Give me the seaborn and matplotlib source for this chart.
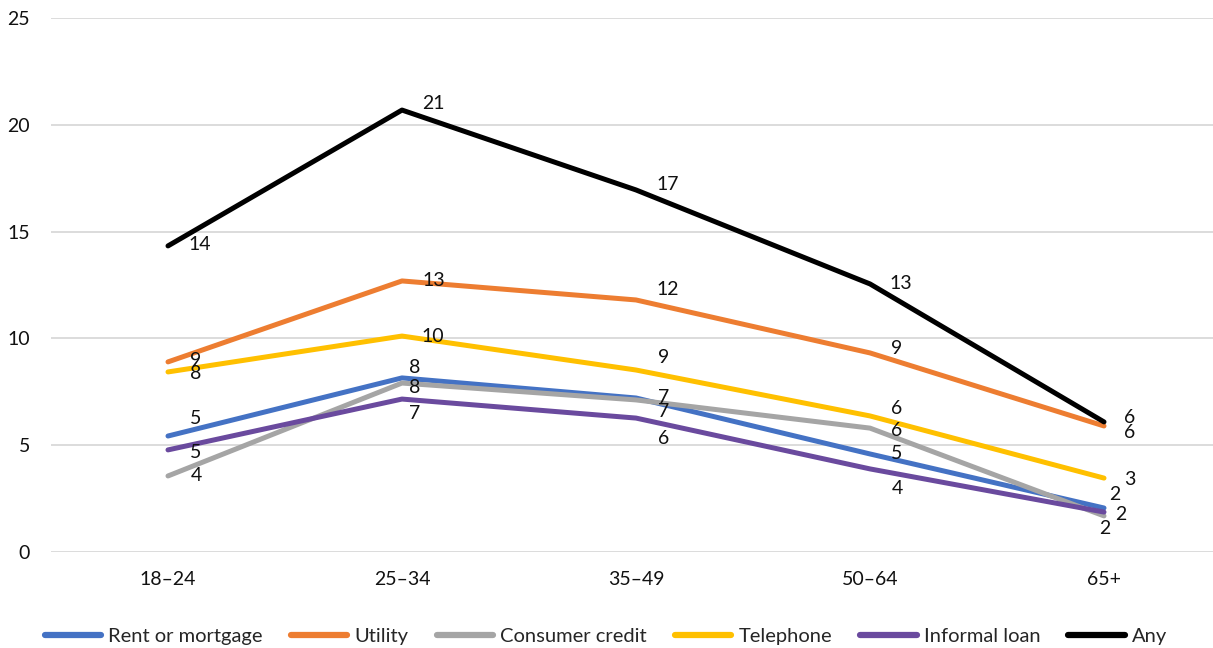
import matplotlib
matplotlib.use("Agg")
import matplotlib.pyplot as plt
import seaborn as sns
import pandas as pd

age_groups = ["18–24", "25–34", "35–49", "50–64", "65+"]
series_names = ["Rent or mortgage", "Utility", "Consumer credit", "Telephone", "Informal loan", "Any"]

rent = [5.43, 8.15, 7.21, 4.59, 2.06]
utility = [8.9, 12.69, 11.8, 9.32, 5.9]
consumer_credit = [3.56, 7.91, 7.12, 5.8, 1.69]
telephone = [8.43, 10.11, 8.52, 6.37, 3.46]
informal_loan = [4.78, 7.16, 6.27, 3.89, 1.87]
any_arrears = [14.33, 20.69, 16.95, 12.55, 6.09]

y_ticks = [0, 5, 10, 15, 20, 25]

values = [rent, utility, consumer_credit, telephone, informal_loan, any_arrears]
colors = ["#4472C4", "#ED7D31", "#A5A5A5", "#FFC000", "#6A4A9E", "#000000"]

# label offsets (pixels) from each point, per series
label_offsets = [
    [(28, 18), (13, 10), (28, 0), (27, 0), (11, 13)],
    [(28, 1), (32, 0), (32, 10), (27, 4), (26, -7)],
    [(28, 0), (13, -4), (28, -12), (27, -2), (1, -13)],
    [(28, -2), (31, 0), (28, 13), (27, 7), (26, -1)],
    [(28, -3), (13, -14), (28, -20), (27, -20), (17, -2)],
    [(32, 1), (31, 7), (32, 5), (31, 0), (26, 4)],
]

df = pd.DataFrame(
    [(s, age_groups[i], i, v[i]) for s, v in zip(series_names, values) for i in range(len(age_groups))],
    columns=["series", "age", "x", "value"],
)

sns.set_theme(style="white")
plt.rcParams["font.family"] = ["Lato", "DejaVu Sans"]

fig = plt.figure(figsize=(12.13, 6.48), dpi=100)
ax = fig.add_axes([51 / 1213, 96 / 648, 1 - 51 / 1213, (552 - 18) / 648])

sns.lineplot(
    data=df, x="x", y="value", hue="series", hue_order=series_names,
    palette=colors, linewidth=3.6, ax=ax, legend=True, sort=False,
    solid_capstyle="round", solid_joinstyle="round",
)

for s_idx, (name, vals) in enumerate(zip(series_names, values)):
    for i, v in enumerate(vals):
        dx, dy = label_offsets[s_idx][i]
        ax.annotate(f"{v:.0f}", (i, v), xytext=(dx, dy), textcoords="offset pixels",
                    ha="center", va="center", fontsize=14, color="#111111")

ax.set_xlim(-0.5, 4.5 - 8 / 234)
ax.set_ylim(0, 25)
ax.set_xticks(range(len(age_groups)))
ax.set_xticklabels(age_groups)
ax.set_yticks(y_ticks)
ax.tick_params(axis="both", labelsize=14, colors="#111111", length=0)
ax.tick_params(axis="x", pad=14)
ax.tick_params(axis="y", pad=15)
ax.grid(axis="y", color="#D9D9D9", linewidth=1.3)
ax.set_axisbelow(True)
for sp in ax.spines.values():
    sp.set_visible(False)
ax.set_xlabel("")
ax.set_ylabel("")

handles, labels = ax.get_legend_handles_labels()
for h in handles:
    h.set_linewidth(4.5)
    h.set_solid_capstyle("round")
ax.legend(handles, labels, loc="center", bbox_to_anchor=(606 / 1213, 12 / 648),
          bbox_transform=fig.transFigure, ncol=6, frameon=False, fontsize=14.5,
          handlelength=2.8, handletextpad=0.35, columnspacing=1.4)

fig.savefig("out.png", dpi=100)
